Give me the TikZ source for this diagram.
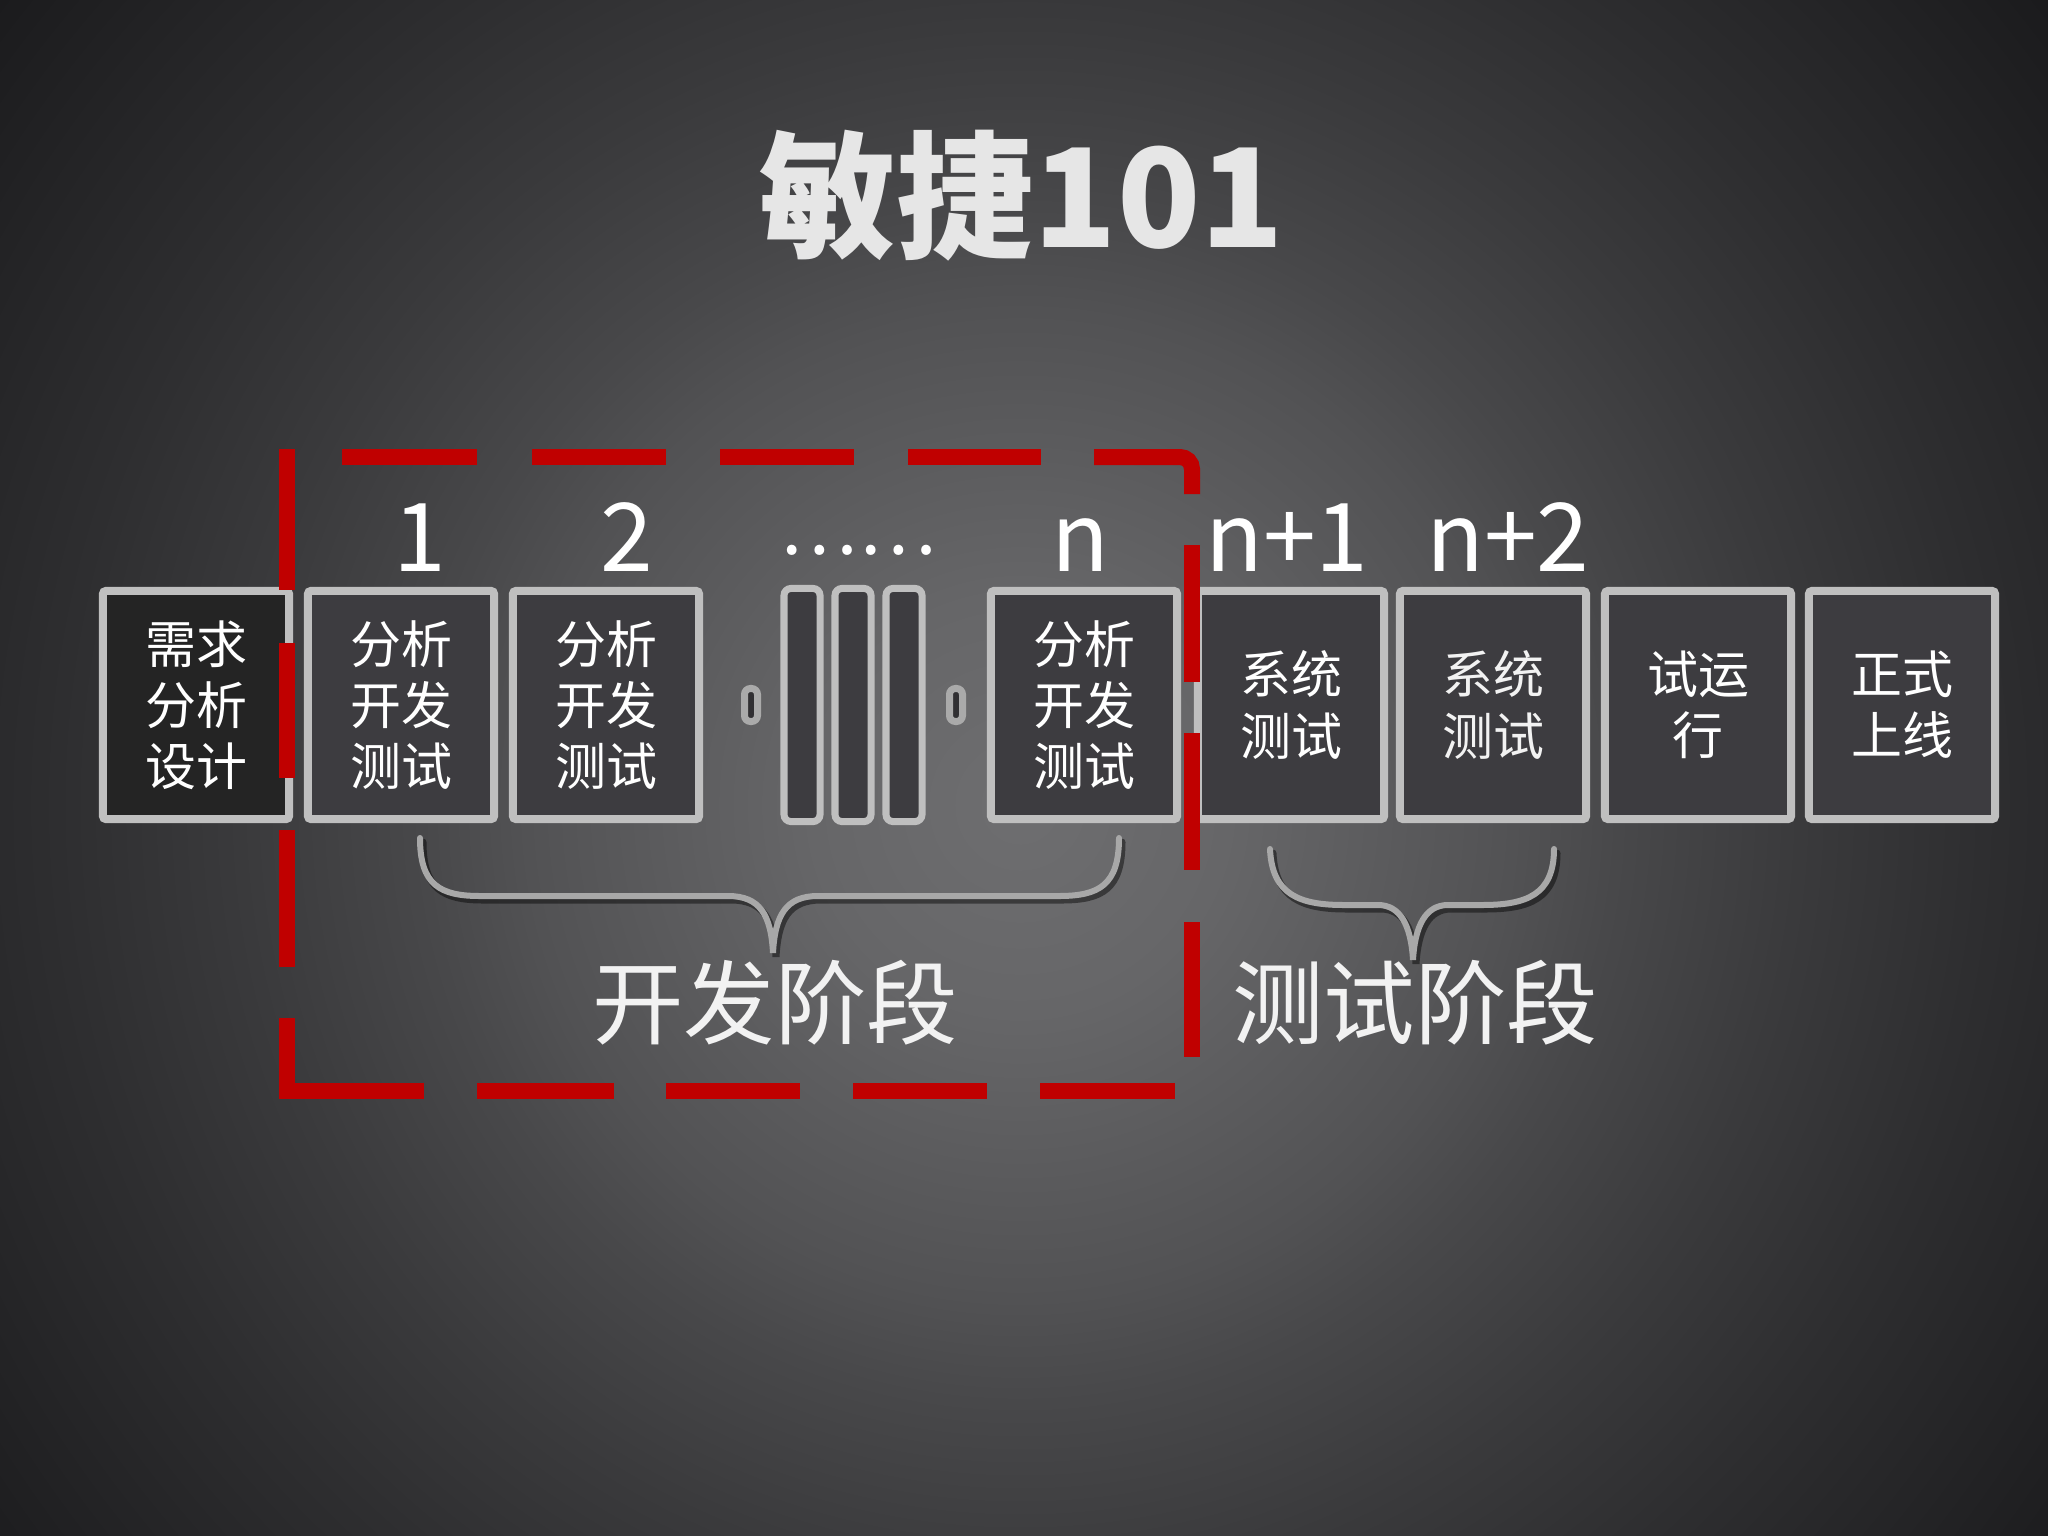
\documentclass[tikz,border=0pt]{standalone}
\usepackage{fontspec}
\usepackage{graphicx}
\setmainfont{Noto Sans CJK SC}
\definecolor{bg0}{RGB}{110,110,112}
\definecolor{bg1}{RGB}{102,102,104}
\definecolor{bg2}{RGB}{82,82,84}
\definecolor{bg3}{RGB}{72,72,74}
\definecolor{bg4}{RGB}{58,58,60}
\definecolor{bg5}{RGB}{46,46,48}
\definecolor{bg6}{RGB}{27,27,29}
\definecolor{bg7}{RGB}{22,22,24}
\definecolor{boxline}{RGB}{191,191,191}
\definecolor{boxfill}{RGB}{61,60,64}
\definecolor{boxdark}{RGB}{36,36,36}
\definecolor{pillline}{RGB}{170,170,170}
\definecolor{bracegray}{RGB}{168,168,168}
\definecolor{dashred}{RGB}{192,0,0}
\definecolor{titlecol}{RGB}{230,230,230}
\definecolor{phasecol}{RGB}{242,242,242}
\pgfdeclareradialshading{bgshade}{\pgfpoint{0bp}{0bp}}{color(0bp)=(bg0); color(8bp)=(bg1); color(19bp)=(bg2); color(23bp)=(bg3); color(30bp)=(bg4); color(37bp)=(bg5); color(50bp)=(bg6); color(60bp)=(bg7)}
\newcommand\bxfont{\fontsize{14.5}{17.4}\selectfont}
\tikzset{
  box/.style={draw=boxline, line width=0.08cm, rounded corners=0.03cm, fill=boxfill,
    minimum width=1.86cm, minimum height=2.28cm, inner sep=0pt, text=white,
    align=center, font=\bxfont},
  bar/.style={draw=boxline, line width=0.07cm, rounded corners=0.07cm, fill=boxfill,
    minimum width=0.36cm, minimum height=2.33cm, inner sep=0pt},
  pill/.style={draw=pillline, line width=0.07cm, rounded corners=0.06cm, fill=boxfill!80!black,
    minimum width=0.13cm, minimum height=0.33cm, inner sep=0pt},
  num/.style={text=white, font=\fontsize{27}{30}\selectfont, inner sep=0pt, anchor=base},
  dotlabel/.style={text=white, font=\fontsize{21}{24}\selectfont, inner sep=0pt},
  phase/.style={text=phasecol, font=\fontsize{26}{30}\selectfont, inner sep=0pt},
  titlestyle/.style={text=titlecol, font=\fontsize{39}{44}\selectfont\bfseries, inner sep=0pt},
  reddash/.style={draw=dashred, line width=0.16cm},
  bracestyle/.style={draw=bracegray, line width=0.06cm, line cap=round},
  braceshadow/.style={draw=black, opacity=0.45, line width=0.07cm, line cap=round},
}
\begin{document}
\begin{tikzpicture}[x=0.01cm,y=-0.01cm]
\useasboundingbox (0,0) rectangle (2048,1536);
\begin{scope}
  \clip (0,0) rectangle (2048,1536);
  \node[inner sep=0pt, outer sep=0pt] (bg) at (1020,805) {\scalebox{7.37}{\pgfuseshading{bgshade}}};
\end{scope}

% title
\node[titlestyle] (title) at (1022,196) {敏捷101};

% boxes
\node[box, fill=boxdark] (b1) at (196,705) {需求\\分析\\设计};
\node[box] (b2) at (401,705) {分析\\开发\\测试};
\node[box] (b3) at (606,705) {分析\\开发\\测试};
\node[pill] (p1) at (751,705) {};
\node[bar] (k1) at (802,705) {};
\node[bar] (k2) at (853,705) {};
\node[bar] (k3) at (904,705) {};
\node[pill] (p2) at (956,705) {};
\node[box] (bn) at (1084,705) {分析\\开发\\测试};
\node[box] (bn1) at (1291,705) {系统\\测试};
\node[box, text=white!90!gray] (bn2) at (1493,705) {系统\\测试};
\node[box] (bt) at (1698,705) {试运\\行};
\node[box] (bz) at (1902,705) {正式\\上线};

% numbers
\node[num] (l1) at (420,571) {1};
\node[num] (l2) at (627,571) {2};
\node[dotlabel] (ld) at (858,550) {……};
\node[num] (ln) at (1080,571) {n};
\node[num] (ln1) at (1287,571) {n+1};
\node[num] (ln2) at (1508,571) {n+2};

% red dashed frame
\draw[reddash] (287,449) -- (287,590);
\draw[reddash] (287,643) -- (287,778);
\draw[reddash] (287,830) -- (287,967);
\draw[reddash] (287,1018) -- (287,1091) -- (424,1091);
\draw[reddash] (477,1091) -- (614,1091);
\draw[reddash] (666,1091) -- (800,1091);
\draw[reddash] (853,1091) -- (987,1091);
\draw[reddash] (1040,1091) -- (1175,1091);
\draw[reddash] (342,457) -- (477,457);
\draw[reddash] (532,457) -- (666,457);
\draw[reddash] (720,457) -- (854,457);
\draw[reddash] (908,457) -- (1041,457);
\draw[reddash, rounded corners=0.12cm] (1094,457) -- (1192,457) -- (1192,494);
\draw[reddash] (1192,545) -- (1192,682);
\draw[reddash] (1192,733) -- (1192,870);
\draw[reddash] (1192,922) -- (1192,1057);

% braces
\begin{scope}[shift={(3,4)}]
\draw[braceshadow] (420,838) .. controls (420,885) and (440,896) .. (480,896) -- (728,896)
  .. controls (760,896) and (771,915) .. (773,953) .. controls (775,915) and (786,896) .. (818,896)
  -- (1059,896) .. controls (1099,896) and (1119,885) .. (1119,838);
\draw[braceshadow] (1270,849) .. controls (1272,895) and (1300,905) .. (1344,905) -- (1378,905)
  .. controls (1400,905) and (1411,925) .. (1413,960) .. controls (1415,925) and (1426,905) .. (1448,905)
  -- (1482,905) .. controls (1526,905) and (1554,895) .. (1554,849);
\end{scope}
\draw[bracestyle] (420,838) .. controls (420,885) and (440,896) .. (480,896) -- (728,896)
  .. controls (760,896) and (771,915) .. (773,953) .. controls (775,915) and (786,896) .. (818,896)
  -- (1059,896) .. controls (1099,896) and (1119,885) .. (1119,838);
\draw[bracestyle] (1270,849) .. controls (1272,895) and (1300,905) .. (1344,905) -- (1378,905)
  .. controls (1400,905) and (1411,925) .. (1413,960) .. controls (1415,925) and (1426,905) .. (1448,905)
  -- (1482,905) .. controls (1526,905) and (1554,895) .. (1554,849);

% phase labels
\node[phase] (pdev) at (775,1003) {开发阶段};
\node[phase] (ptest) at (1415,1003) {测试阶段};
\end{tikzpicture}
\end{document}
